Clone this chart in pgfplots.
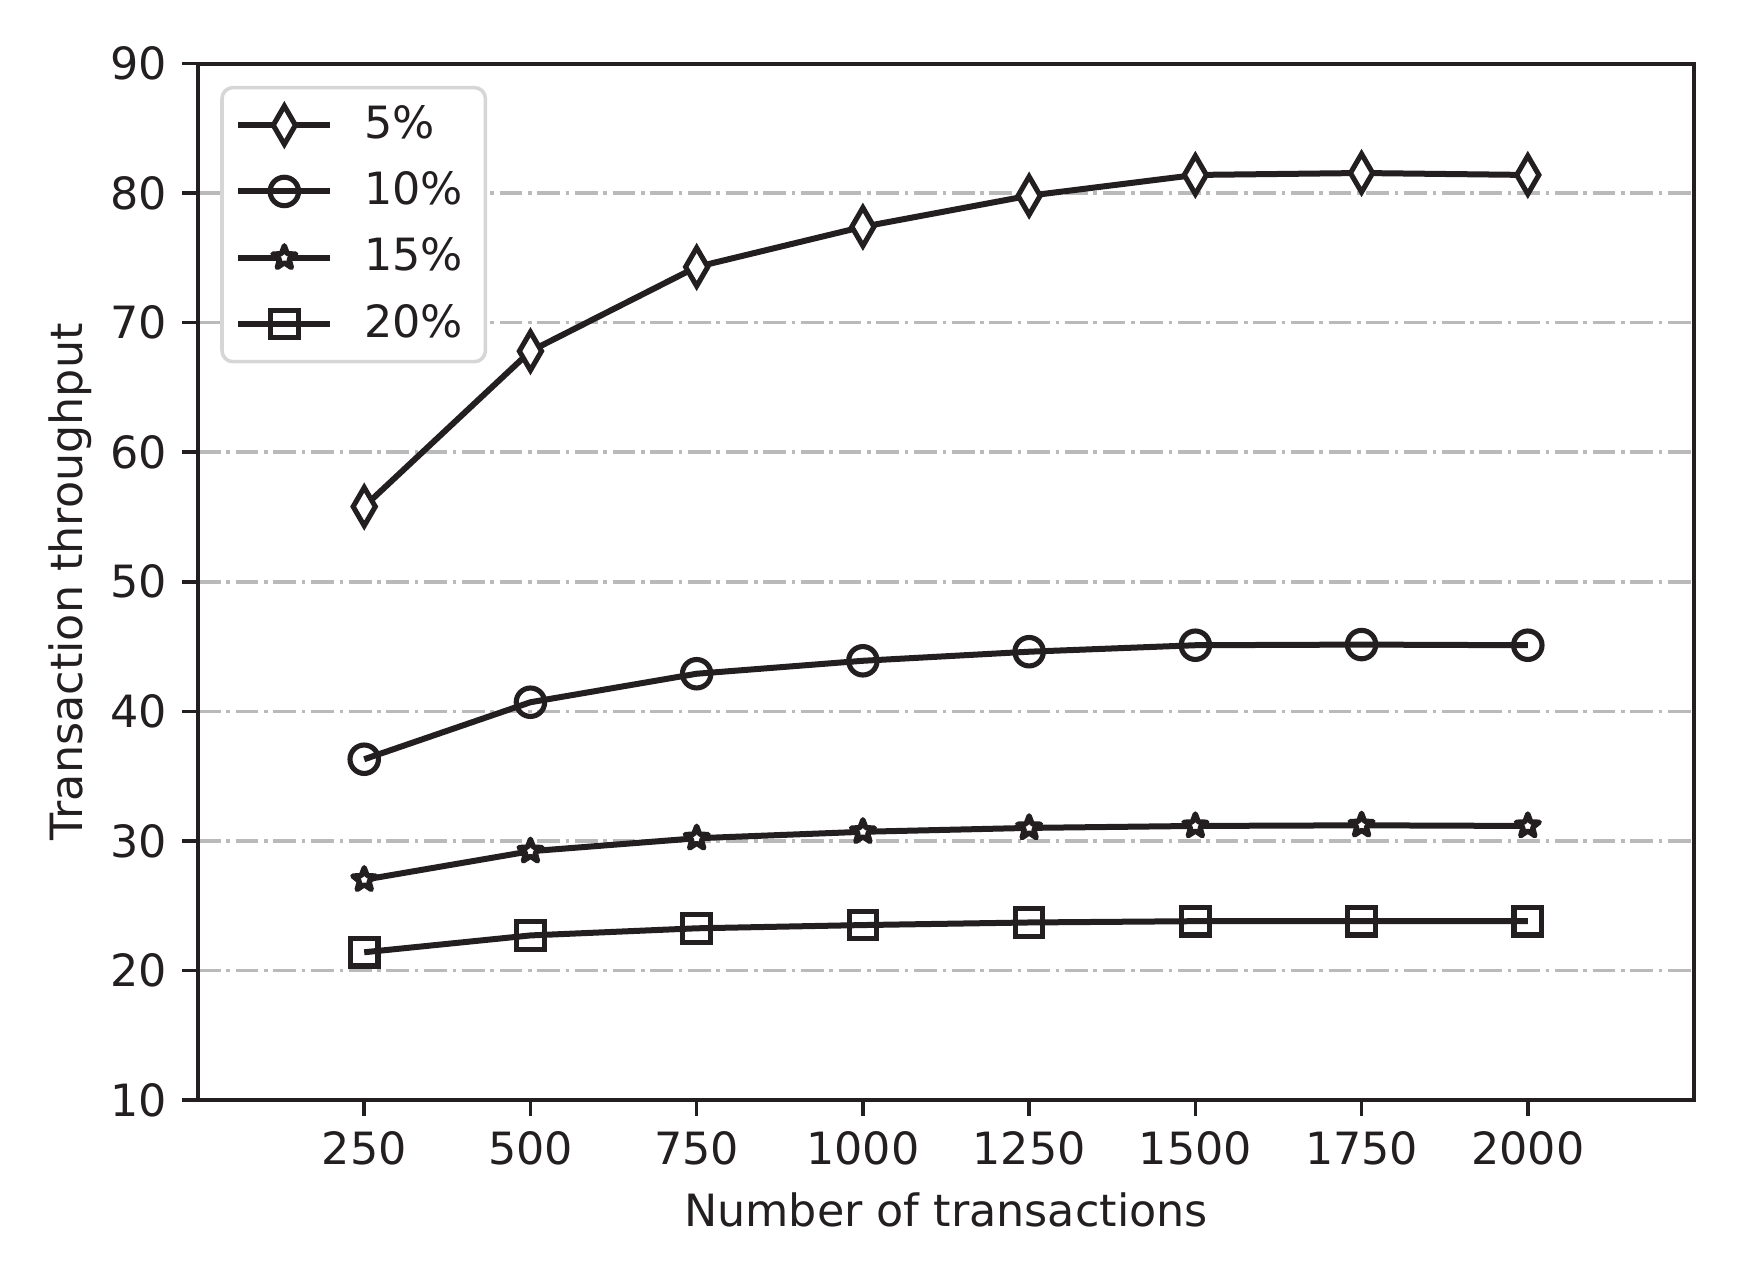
\documentclass[border=0pt]{standalone}
\usepackage{fontspec}
\setmainfont{DejaVu Sans}
\usepackage{pgfplots}
\pgfplotsset{compat=1.18}
\usetikzlibrary{plotmarks}
\definecolor{ink}{RGB}{35,31,32}
\definecolor{gridgray}{RGB}{186,186,186}
\definecolor{legedge}{RGB}{214,214,214}
\pgfdeclareplotmark{mstar}{%
  \pgfpathmoveto{\pgfpointpolar{90}{\pgfplotmarksize}}%
  \pgfpathlineto{\pgfpointpolar{126}{0.42\pgfplotmarksize}}%
  \pgfpathlineto{\pgfpointpolar{162}{\pgfplotmarksize}}%
  \pgfpathlineto{\pgfpointpolar{198}{0.42\pgfplotmarksize}}%
  \pgfpathlineto{\pgfpointpolar{234}{\pgfplotmarksize}}%
  \pgfpathlineto{\pgfpointpolar{270}{0.42\pgfplotmarksize}}%
  \pgfpathlineto{\pgfpointpolar{306}{\pgfplotmarksize}}%
  \pgfpathlineto{\pgfpointpolar{342}{0.42\pgfplotmarksize}}%
  \pgfpathlineto{\pgfpointpolar{18}{\pgfplotmarksize}}%
  \pgfpathlineto{\pgfpointpolar{54}{0.42\pgfplotmarksize}}%
  \pgfpathclose
  \pgfusepathqfillstroke
}
\pgfdeclareplotmark{thindiamond}{%
  \pgfpathmoveto{\pgfqpoint{0pt}{\pgfplotmarksize}}%
  \pgfpathlineto{\pgfqpoint{0.58\pgfplotmarksize}{0pt}}%
  \pgfpathlineto{\pgfqpoint{0pt}{-\pgfplotmarksize}}%
  \pgfpathlineto{\pgfqpoint{-0.58\pgfplotmarksize}{0pt}}%
  \pgfpathclose
  \pgfusepathqfillstroke
}
\begin{document}
\begin{tikzpicture}
\begin{axis}[
  scale only axis,
  width=336.6pt, height=233.2pt,
  xmin=0, xmax=2250, ymin=10, ymax=90,
  xtick={250,500,750,1000,1250,1500,1750,2000},
  ytick={10,20,30,40,50,60,70,80,90},
  tick align=outside,
  major tick length=3.5pt,
  every tick/.style={ink, line width=0.8pt},
  xtick pos=bottom, ytick pos=left,
  axis line style={ink, line width=0.9pt},
  tick label style={font=\fontsize{10}{12}\selectfont, text=ink},
  /pgf/number format/assume math mode=true,
  /pgf/number format/1000 sep={},
  ymajorgrids,
  major grid style={gridgray, line width=0.8pt, dash pattern=on 5.12pt off 1.28pt on 0.8pt off 1.28pt},
  xlabel={Number of transactions},
  ylabel={Transaction throughput},
  every axis x label/.style={at={(axis description cs:0.5,0)}, yshift=-24.8pt, anchor=center, font=\fontsize{10}{12}\selectfont, text=ink},
  every axis y label/.style={at={(axis description cs:0,0.5)}, xshift=-28.8pt, rotate=90, anchor=center, font=\fontsize{10}{12}\selectfont, text=ink},
  legend cell align=left,
  legend style={at={(axis description cs:0,1)}, anchor=north west, xshift=5pt, yshift=-5pt,
    draw=legedge, line width=0.8pt, rounded corners=2.5pt, fill=white,
    font=\fontsize{10}{12}\selectfont, text=ink,
    inner xsep=3pt, inner ysep=2pt, row sep=2.0pt, column sep=5.0pt},
  legend image code/.code={\draw[mark repeat=2, mark phase=2] plot coordinates {(0pt,0pt) (10.35pt,0pt) (20.7pt,0pt)};},
]
\addplot[ink, line width=1.35pt, mark=thindiamond, mark size=4.3pt, mark options={solid, fill=white, draw=ink, line width=1.15pt}] coordinates {
  (250,55.8) (500,67.8) (750,74.3) (1000,77.4) (1250,79.8) (1500,81.4) (1750,81.55) (2000,81.4)};
\addlegendentry{5\%}
\addplot[ink, line width=1.35pt, mark=o, mark size=3.2pt, mark options={solid, fill=white, draw=ink, line width=1.15pt}] coordinates {
  (250,36.3) (500,40.7) (750,42.9) (1000,43.9) (1250,44.6) (1500,45.1) (1750,45.15) (2000,45.1)};
\addlegendentry{10\%}
\addplot[ink, line width=1.35pt, mark=mstar, mark size=2.7pt, mark options={solid, fill=white, draw=ink, line width=1.2pt, line join=round}] coordinates {
  (250,27.0) (500,29.2) (750,30.2) (1000,30.7) (1250,31.0) (1500,31.15) (1750,31.2) (2000,31.15)};
\addlegendentry{15\%}
\addplot[ink, line width=1.35pt, mark=square, mark size=3.1pt, mark options={solid, fill=white, draw=ink, line width=1.15pt}] coordinates {
  (250,21.4) (500,22.7) (750,23.25) (1000,23.5) (1250,23.7) (1500,23.8) (1750,23.8) (2000,23.8)};
\addlegendentry{20\%}
\end{axis}
\pgfresetboundingbox
\useasboundingbox ([shift={(-44.55pt,-36.5pt)}]current axis.south west) rectangle ([shift={(11.7pt,14.3pt)}]current axis.north east);
\end{tikzpicture}
\end{document}
